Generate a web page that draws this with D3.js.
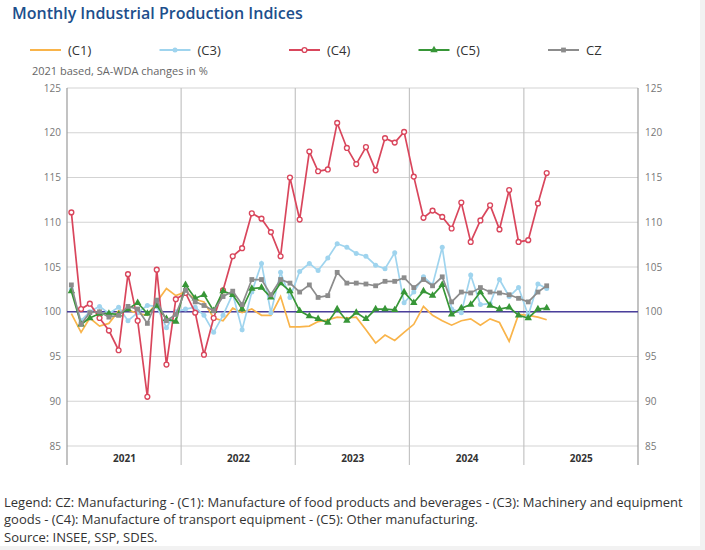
<!DOCTYPE html>
<html>
<head>
<meta charset="utf-8">
<style>
    body { margin: 0; background: #f2f2f2; font-family: "Open Sans", sans-serif; }
    svg { display: block; }
    .tick text { font-family: "Open Sans", sans-serif; }
</style>
</head>
<body>
<svg id="chart" width="705" height="550"></svg>
<script src="https://d3js.org/d3.v7.min.js"></script>
<script>
// monthly values, Jan 2021 .. Mar 2025
var months = d3.timeMonths(new Date(2021, 0, 1), new Date(2025, 3, 1));

var c1 = [99.8, 97.7, 99.3, 98.4, 98.7, 100.1, 100.2, 99.8, 99.6, 101.1, 102.6, 101.8,
          102.2, 101.4, 101.1, 99.3, 99.0, 100.4, 99.9, 100.3, 99.6, 99.6, 101.7, 98.3,
          98.3, 98.4, 98.9, 99.1, 99.4, 99.3, 99.4, 98.0, 96.5, 97.4, 96.8, 97.7,
          98.6, 100.6, 99.6, 99.0, 98.5, 99.0, 99.2, 98.5, 99.2, 98.8, 96.7, 99.7,
          99.6, 99.4, 99.1];
var c3 = [102.5, 99.0, 100.0, 100.6, 99.8, 100.5, 99.0, 99.9, 100.7, 100.6, 98.2, 100.0,
          100.3, 100.5, 99.6, 97.7, 99.6, 102.0, 98.0, 102.2, 105.4, 99.9, 104.4, 101.6,
          104.5, 105.4, 104.6, 106.0, 107.6, 107.2, 106.5, 106.2, 105.2, 104.8, 106.6, 101.0,
          102.2, 103.9, 103.0, 107.2, 100.3, 99.9, 104.1, 100.8, 100.9, 103.6, 101.7, 102.7,
          99.6, 103.1, 102.6];
var c4 = [111.1, 100.3, 100.9, 99.3, 97.9, 95.7, 104.2, 99.0, 90.5, 104.7, 94.1, 101.4,
          102.1, 99.9, 95.2, 99.3, 102.4, 106.2, 107.1, 111.0, 110.4, 108.9, 106.2, 115.0,
          110.3, 117.9, 115.7, 115.9, 121.1, 118.3, 116.5, 118.4, 115.8, 119.4, 118.9, 120.1,
          115.1, 110.5, 111.3, 110.6, 109.3, 112.2, 107.8, 110.2, 111.9, 109.2, 113.6, 107.8,
          108.0, 112.1, 115.5];
var c5 = [102.3, 98.6, 99.3, 99.8, 99.8, 99.7, 100.3, 101.0, 99.8, 100.7, 99.2, 98.9,
          103.0, 101.5, 101.9, 100.1, 102.3, 101.9, 100.3, 102.6, 102.7, 101.6, 103.2, 102.3,
          100.1, 99.5, 99.2, 98.8, 100.3, 99.0, 99.9, 99.2, 100.3, 100.3, 100.2, 102.2,
          101.0, 102.3, 101.8, 103.0, 99.7, 100.4, 100.8, 102.2, 100.7, 100.3, 100.5, 99.6,
          99.3, 100.3, 100.4];
var cz = [103.0, 98.6, 99.9, 100.0, 99.4, 99.6, 100.6, 100.3, 98.7, 101.3, 99.0, 99.7,
          102.4, 101.1, 100.7, 100.1, 101.7, 102.3, 100.8, 103.6, 103.6, 101.9, 103.6, 103.2,
          102.2, 103.0, 101.6, 101.8, 104.4, 103.2, 103.2, 103.1, 102.9, 103.4, 103.4, 103.8,
          102.7, 103.6, 102.9, 103.9, 101.1, 102.2, 102.1, 102.7, 102.2, 102.1, 101.9, 101.5,
          101.1, 102.2, 102.9];

var seriesNames = ["(C1)", "(C3)", "(C4)", "(C5)", "CZ"];
var seriesValues = [c1, c3, c4, c5, cz];
var seriesColors = ["#f9b44a", "#9fd4ee", "#d9465c", "#379637", "#8c8c8c"];
var seriesMarkers = ["none", "dot", "ring", "triangle", "square"];

var yTicks = [85, 90, 95, 100, 105, 110, 115, 120, 125];
var years = [2021, 2022, 2023, 2024, 2025];

var title = "Monthly Industrial Production Indices";
var subtitle = "2021 based, SA-WDA changes in %";
var notes = [
    "Legend: CZ: Manufacturing - (C1): Manufacture of food products and beverages - (C3): Machinery and equipment",
    "goods - (C4): Manufacture of transport equipment - (C5): Other manufacturing.",
    "Source: INSEE, SSP, SDES."
];

var svg = d3.select("#chart");
svg.append("rect").attr("width", 700).attr("height", 546).attr("fill", "#fff");

var plotL = 67, plotR = 638, plotT = 88, plotB = 446;

var x = d3.scaleTime()
    .domain([new Date(2021, 0, 1), new Date(2026, 0, 1)])
    .range([plotL, plotR]);
var y = d3.scaleLinear().domain([85, 125]).range([plotB, plotT]);

function mid(d) { return new Date(d.getFullYear(), d.getMonth(), 15); }

// title + subtitle
svg.append("text").attr("x", 12).attr("y", 19)
    .attr("fill", "#1d4f8c").attr("font-size", 16).attr("font-weight", 600)
    .text(title);
svg.append("text").attr("x", 32).attr("y", 75)
    .attr("fill", "#666").attr("font-size", 11)
    .text(subtitle);

// horizontal grid
svg.append("g").selectAll("line").data(yTicks).join("line")
    .attr("x1", plotL).attr("x2", plotR)
    .attr("y1", d => y(d)).attr("y2", d => y(d))
    .attr("stroke", "#d3d3d3").attr("stroke-width", 1.2);

// vertical year lines
var yearBounds = d3.timeYears(new Date(2021, 0, 1), new Date(2026, 0, 2));
svg.append("g").selectAll("line").data(yearBounds).join("line")
    .attr("x1", d => x(d)).attr("x2", d => x(d))
    .attr("y1", plotT).attr("y2", 465)
    .attr("stroke", (d, i) => (i == 0 || i == yearBounds.length - 1) ? "#9a9a9a" : "#c4c4c4")
    .attr("stroke-width", 1.2);

// y labels both sides
var yl = svg.append("g").attr("transform", "translate(" + plotL + ",0)")
    .call(d3.axisLeft(y).tickValues(yTicks).tickSize(0).tickPadding(6));
var yr = svg.append("g").attr("transform", "translate(" + plotR + ",0)")
    .call(d3.axisRight(y).tickValues(yTicks).tickSize(0).tickPadding(7));
[yl, yr].forEach(function(a) {
    a.select(".domain").remove();
    a.selectAll("text").attr("fill", "#777").attr("font-size", 10);
});

// year labels
var xa = svg.append("g").attr("transform", "translate(0," + plotB + ")")
    .call(d3.axisBottom(x)
        .tickValues(years.map(v => new Date(v, 6, 2)))
        .tickFormat(d3.timeFormat("%Y"))
        .tickSize(0).tickPadding(9));
xa.select(".domain").remove();
xa.selectAll("text").attr("fill", "#333").attr("font-size", 10).attr("font-weight", 700);

// base line at 100
svg.append("line")
    .attr("x1", plotL).attr("x2", plotR)
    .attr("y1", y(100)).attr("y2", y(100))
    .attr("stroke", "#4b3f9c").attr("stroke-width", 1.5);

var line = d3.line().x(d => x(mid(d.m))).y(d => y(d.v));

function drawMarker(g, kind, color) {
    if (kind == "dot") {
        g.append("circle").attr("r", 2.5).attr("fill", color);
    } else if (kind == "ring") {
        g.append("circle").attr("r", 2.4).attr("fill", "#fff")
            .attr("stroke", color).attr("stroke-width", 1.4);
    } else if (kind == "triangle") {
        g.append("path").attr("d", d3.symbol(d3.symbolTriangle, 24)()).attr("fill", color);
    } else if (kind == "square") {
        g.append("rect").attr("x", -2.4).attr("y", -2.4)
            .attr("width", 4.8).attr("height", 4.8).attr("fill", color);
    }
}

seriesValues.forEach(function(vals, i) {
    var pts = vals.map((v, j) => ({m: months[j], v: v}));
    var g = svg.append("g");
    g.append("path").datum(pts)
        .attr("d", line)
        .attr("fill", "none")
        .attr("stroke", seriesColors[i])
        .attr("stroke-width", 1.7);
    if (seriesMarkers[i] != "none") {
        g.selectAll("g.pt").data(pts).join("g").attr("class", "pt")
            .attr("transform", d => "translate(" + x(mid(d.m)) + "," + y(d.v) + ")")
            .each(function() { drawMarker(d3.select(this), seriesMarkers[i], seriesColors[i]); });
    }
});

// legend
var leg = svg.append("g").selectAll("g").data(seriesNames).join("g")
    .attr("transform", (d, i) => "translate(" + (68 + i * 129.5) + ",50)");
leg.append("line").attr("x1", -38).attr("x2", -7)
    .attr("stroke", (d, i) => seriesColors[i]).attr("stroke-width", 2);
leg.each(function(d, i) {
    var m = d3.select(this).append("g").attr("transform", "translate(-22.5,0)");
    drawMarker(m, seriesMarkers[i], seriesColors[i]);
});
leg.append("text").attr("y", 4.5).attr("font-size", 13).attr("fill", "#333")
    .text(d => d);

// footer notes
svg.append("g").selectAll("text").data(notes).join("text")
    .attr("x", 4).attr("y", (d, i) => [507, 524, 542][i])
    .attr("font-size", 13).attr("fill", "#333")
    .text(d => d);
</script>
</body>
</html>
